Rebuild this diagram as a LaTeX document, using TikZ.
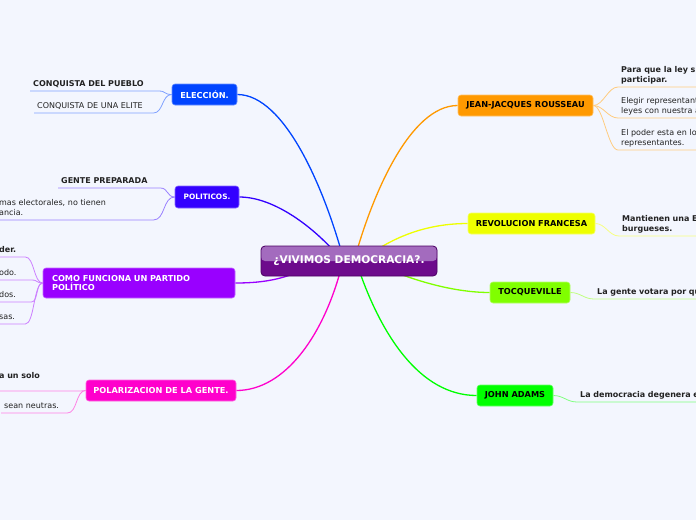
\documentclass[tikz,border=0pt]{standalone}
\usepackage{fontspec}
\setmainfont{DejaVu Sans}

\definecolor{paper}{HTML}{F3F6FE}
\definecolor{leaftext}{HTML}{222222}
\definecolor{eleccol}{HTML}{0044FF}
\definecolor{policol}{HTML}{3300FF}
\definecolor{partcol}{HTML}{9900FF}
\definecolor{polacol}{HTML}{FF00CC}
\definecolor{rouscol}{HTML}{FF9900}
\definecolor{revocol}{HTML}{EEFF00}
\definecolor{tocqcol}{HTML}{80FF00}
\definecolor{adamcol}{HTML}{00FF00}
\definecolor{roottop}{HTML}{A36BBE}
\definecolor{rootlow}{HTML}{6D0B8C}
\definecolor{rootedge}{HTML}{4B0063}

\pgfdeclarelayer{bg}
\pgfsetlayers{bg,main}

\begin{document}
\begin{tikzpicture}[x=1pt, y=-1pt,
    root/.style ={rounded corners=4pt, fill=rootlow, draw=rootedge, line width=0.8pt,
      text=white, minimum width=176pt, minimum height=30pt,
      font=\bfseries\fontsize{10.6}{12}\selectfont,
      path picture={\fill[roottop] (path picture bounding box.north west)
        rectangle (path picture bounding box.east);}},
    topic/.style ={rounded corners=3pt, fill=#1, draw=#1!60!white, line width=0.6pt,
      minimum height=21pt, inner sep=2pt, font=\bfseries\fontsize{8.2}{9.5}\selectfont},
    leaf/.style ={anchor=south west, align=left, inner xsep=3pt, inner ysep=3pt,
      text=leaftext, font=\fontsize{8}{9.8}\selectfont,
      execute at end node={\vphantom{gp}}},
    boldleaf/.style ={leaf, font=\bfseries\fontsize{8}{9.8}\selectfont},
    stem/.style ={line width=1.3pt},
    twig/.style ={line width=0.8pt}]
   \useasboundingbox (0,0) rectangle (696,520);
   \clip (0,0) rectangle (696,520);
   \begin{pgfonlayer}{bg}
     \fill[paper] (0,0) rectangle (696,520);
   \end{pgfonlayer}

   \node[root] (root) at (349,261) {¿VIVIMOS DEMOCRACIA?.};

   % left side
   \node[topic=eleccol, text=white, minimum width=65pt] (elec) at (204.5,94.5) {ELECCIÓN.};
   \node[topic=policol, text=white, minimum width=64pt, minimum height=22pt,
     font=\bfseries\fontsize{7.4}{9}\selectfont] (poli) at (207,197) {POLITICOS.};
   \node[topic=partcol, text=white, minimum height=30pt, text width=174pt, align=left,
     inner xsep=9pt] (part) at (139,283) {COMO FUNCIONA UN PARTIDO\\POLÍTICO};
   \node[topic=polacol, text=white, minimum width=150pt] (pola) at (161,390.5) {POLARIZACION DE LA GENTE.};

   % right side
   \node[topic=rouscol, minimum width=135pt] (rous) at (525.5,105.5) {JEAN-JACQUES ROUSSEAU};
   \node[topic=revocol, minimum width=127pt] (revo) at (531.5,223.5) {REVOLUCION FRANCESA};
   \node[topic=tocqcol, minimum width=80pt] (tocq) at (530,292.5) {TOCQUEVILLE};
   \node[topic=adamcol, minimum width=76pt] (adam) at (515,395.5) {JOHN ADAMS};

   % leaves
   \node[boldleaf, text width=122pt] (el1) at (30,91) {CONQUISTA DEL PUEBLO};
   \node[leaf, text width=113pt] (el2) at (34,113) {CONQUISTA DE UNA ELITE};
   \node[boldleaf, text width=96pt] (po1) at (58,188) {GENTE PREPARADA};
   \node[leaf, text width=151pt] (po2) at (-4,220) {mas electorales, no tienen\\ancia.};
   \node[boldleaf, text width=23pt] (pa1) at (-4,257) {der.};
   \node[leaf, text width=29pt] (pa2) at (-4,280) {odo.};
   \node[leaf, text width=29pt] (pa3) at (-4,302) {dos.};
   \node[leaf, text width=23pt] (pa4) at (-4,324) {sas.};
   \node[boldleaf, text width=78pt, inner ysep=11pt] (pz1) at (-4,391) {a un solo};
   \node[leaf, text width=60pt] (pz2) at (1,413) {sean neutras.};

   \node[boldleaf, text width=100pt] (ro1) at (618,87) {Para que la ley s\\participar.};
   \node[leaf, text width=100pt] (ro2) at (618,118) {Elegir representant\\leyes con nuestra a};
   \node[leaf, text width=100pt] (ro3) at (618,150) {El poder esta en lo\\representantes.};
   \node[boldleaf, text width=100pt] (rf1) at (619,236) {Mantienen una E\\burgueses.};
   \node[boldleaf, text width=120pt] (tq1) at (594,299) {La gente votara por qu};
   \node[boldleaf, text width=130pt] (ja1) at (577,402) {La democracia degenera e};

   % stems
   \begin{pgfonlayer}{bg}
     \draw[stem, eleccol] ([xshift=-5pt]root.center) .. controls (325,190) and (285,94.5) .. (elec.east);
     \draw[stem, policol] ([xshift=-7pt]root.center) .. controls (325,238) and (280,197) .. (poli.east);
     \draw[stem, partcol] ([xshift=-30pt]root.center) .. controls (290,279) and (265,283) .. (part.east);
     \draw[stem, polacol] ([xshift=-6pt]root.center) .. controls (325,335) and (285,390.5) .. (pola.east);
     \draw[stem, rouscol] ([xshift=5pt]root.center) .. controls (372,195) and (410,105.5) .. (rous.west);
     \draw[stem, revocol] ([xshift=12pt]root.center) .. controls (390,238) and (425,223.5) .. (revo.west);
     \draw[stem, tocqcol] ([xshift=20pt]root.center) .. controls (405,278) and (450,292.5) .. (tocq.west);
     \draw[stem, adamcol] ([xshift=7pt]root.center) .. controls (380,335) and (420,395.5) .. (adam.west);
   \end{pgfonlayer}

   % twigs
   \draw[twig, eleccol!50] (elec.west) .. controls +(-8,0) and +(8,0) .. (el1.south east) -- (el1.south west);
   \draw[twig, eleccol!50] (elec.west) .. controls +(-10,0) and +(10,0) .. (el2.south east) -- (el2.south west);
   \draw[twig, policol!50] (poli.west) .. controls +(-8,0) and +(8,0) .. (po1.south east) -- (po1.south west);
   \draw[twig, policol!50] (poli.west) .. controls +(-12,0) and +(12,0) .. (po2.south east) -- (po2.south west);
   \draw[twig, partcol!50] (part.west) .. controls +(-9,0) and +(9,0) .. (pa1.south east) -- (pa1.south west);
   \draw[twig, partcol!50] (part.west) .. controls +(-7,0) and +(7,0) .. (pa2.south east) -- (pa2.south west);
   \draw[twig, partcol!50] (part.west) .. controls +(-7,0) and +(7,0) .. (pa3.south east) -- (pa3.south west);
   \draw[twig, partcol!50] (part.west) .. controls +(-9,0) and +(9,0) .. (pa4.south east) -- (pa4.south west);
   \draw[twig, polacol!50] (pola.west) .. controls +(-3,0) and +(3,0) .. (pz1.south east) -- (pz1.south west);
   \draw[twig, polacol!50] (pola.west) .. controls +(-10,0) and +(10,0) .. (pz2.south east) -- (pz2.south west);

   \draw[twig, rouscol!50] (rous.east) .. controls +(10,0) and +(-10,0) .. (ro1.south west) -- (ro1.south east);
   \draw[twig, rouscol!50] (rous.east) .. controls +(10,0) and +(-10,0) .. (ro2.south west) -- (ro2.south east);
   \draw[twig, rouscol!50] (rous.east) .. controls +(10,0) and +(-10,0) .. (ro3.south west) -- (ro3.south east);
   \draw[twig, revocol!50] (revo.east) .. controls +(10,0) and +(-10,0) .. (rf1.south west) -- (rf1.south east);
   \draw[twig, tocqcol!50] (tocq.east) .. controls +(10,0) and +(-10,0) .. (tq1.south west) -- (tq1.south east);
   \draw[twig, adamcol!50] (adam.east) .. controls +(10,0) and +(-10,0) .. (ja1.south west) -- (ja1.south east);
 \end{tikzpicture}
\end{document}
